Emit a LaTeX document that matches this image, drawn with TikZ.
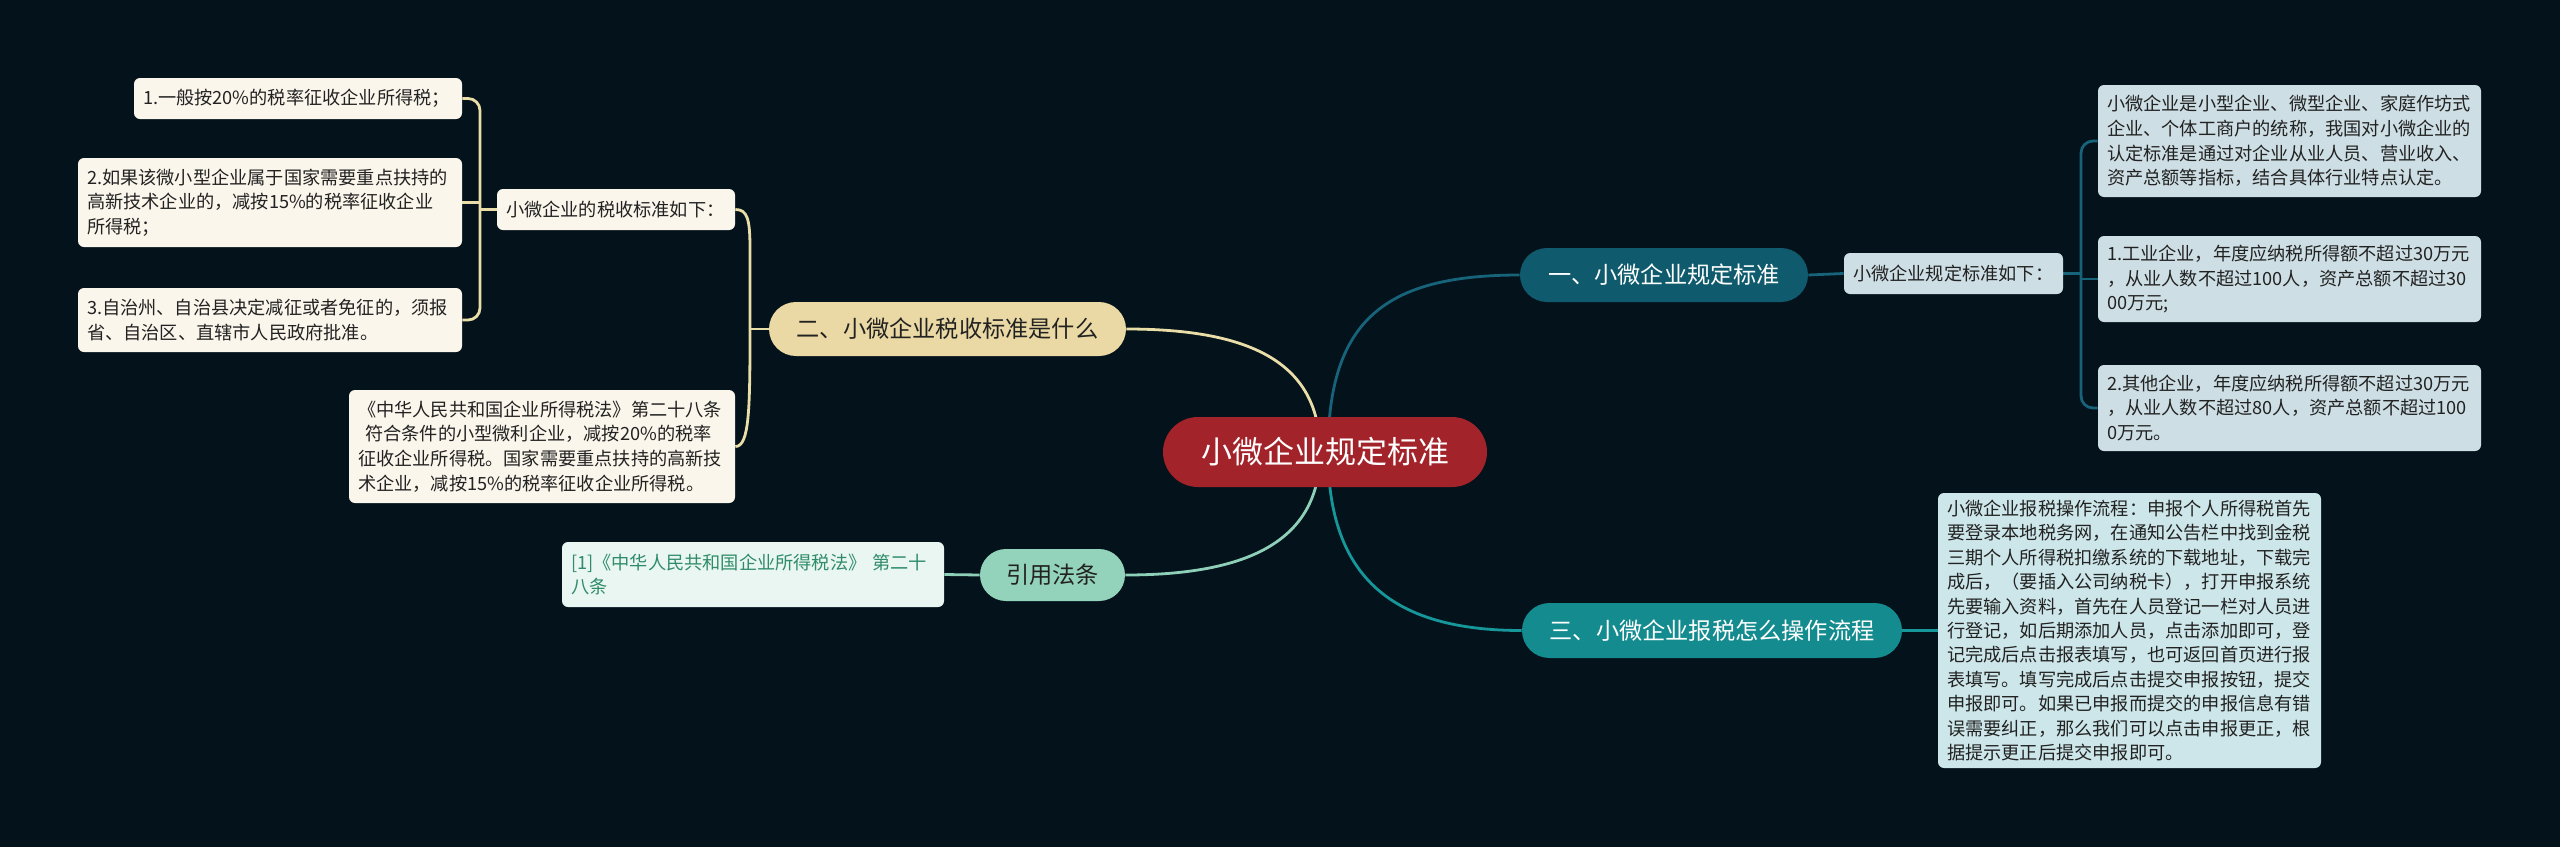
\documentclass[tikz,border=0pt]{standalone}
\usepackage{fontspec}
\newfontfamily\cjk{Noto Sans CJK SC}
\usetikzlibrary{calc}
\definecolor{bgc}{HTML}{04121B}
\definecolor{rootc}{HTML}{A2232A}
\definecolor{tealA}{HTML}{0F5A6D}
\definecolor{tealAl}{HTML}{16637A}
\definecolor{leafA}{HTML}{CDDEE4}
\definecolor{creamB}{HTML}{EAD9A4}
\definecolor{creamBl}{HTML}{E9DDA8}
\definecolor{leafB}{HTML}{FBF6EC}
\definecolor{mintC}{HTML}{93D3BC}
\definecolor{mintCl}{HTML}{8ECFB8}
\definecolor{leafC}{HTML}{EAF6F2}
\definecolor{refText}{HTML}{2F8C6A}
\definecolor{tealD}{HTML}{148C8F}
\definecolor{tealDl}{HTML}{16979A}
\definecolor{leafD}{HTML}{CDE6E9}
\definecolor{darktext}{HTML}{222222}
\pgfdeclarelayer{bglayer}
\pgfdeclarelayer{lines}
\pgfsetlayers{bglayer,lines,main}
\begin{document}
\begin{tikzpicture}[x=0.5pt,y=-0.5pt,
  smallfont/.style={font=\cjk\fontsize{9.1}{12.3}\selectfont},
  leafbox/.style={smallfont, rounded corners=3pt, inner xsep=4.5pt, inner ysep=0pt, align=left, text=darktext},
  pill/.style={inner sep=0pt, align=center, font=\cjk\fontsize{11.6}{14}\selectfont},
  conn/.style={line width=1.4pt}
]
\begin{pgfonlayer}{bglayer}
\fill[bgc] (0,0) rectangle (2560,847);
\end{pgfonlayer}
\useasboundingbox (0,0) rectangle (2560,847);

% root
\node[fill=rootc, text=white, rounded corners=17.5pt, minimum width=162pt, minimum height=35pt, inner sep=0pt, font=\cjk\fontsize{15.5}{18}\selectfont] (root) at (1325,452) {小微企业规定标准};

% branches
\node[pill, fill=tealA, text=white, rounded corners=13.5pt, minimum width=144pt, minimum height=27pt] (b1) at (1664,275) {一、小微企业规定标准};
\node[pill, fill=creamB, text=darktext, rounded corners=13.5pt, minimum width=178.5pt, minimum height=27pt] (b2) at (947.5,329) {二、小微企业税收标准是什么};
\node[pill, fill=mintC, text=darktext, rounded corners=13pt, minimum width=72.5pt, minimum height=26pt] (yin) at (1052.5,575) {引用法条};
\node[pill, fill=tealD, text=white, rounded corners=13.75pt, minimum width=190pt, minimum height=27.5pt] (b3) at (1712,630.5) {三、小微企业报税怎么操作流程};

% right subtree of b1
\node[leafbox, fill=leafA, text width=100.5pt, minimum height=20.5pt] (rsub) at (1953.5,273.5) {小微企业规定标准如下：};
\node[leafbox, fill=leafA, text width=182.5pt, minimum height=56pt] (r1) at (2289.5,141) {小微企业是小型企业、微型企业、家庭作坊式\\企业、个体工商户的统称，我国对小微企业的\\认定标准是通过对企业从业人员、营业收入、\\资产总额等指标，结合具体行业特点认定。};
\node[leafbox, fill=leafA, text width=182.5pt, minimum height=43pt] (r2) at (2289.5,279) {1.工业企业，年度应纳税所得额不超过30万元\\，从业人数不超过100人，资产总额不超过30\\00万元;};
\node[leafbox, fill=leafA, text width=182.5pt, minimum height=43pt] (r3) at (2289.5,408) {2.其他企业，年度应纳税所得额不超过30万元\\，从业人数不超过80人，资产总额不超过100\\0万元。};

% left subtree of b2
\node[leafbox, fill=leafB, text width=110pt, minimum height=20.5pt] (lsub) at (616,209.5) {小微企业的税收标准如下：};
\node[leafbox, fill=leafB, text width=155pt, minimum height=20.5pt] (l1) at (298,98.5) {1.一般按20\%的税率征收企业所得税；};
\node[leafbox, fill=leafB, text width=183pt, minimum height=44.5pt] (l2) at (270,202.5) {2.如果该微小型企业属于国家需要重点扶持的\\高新技术企业的，减按15\%的税率征收企业\\所得税；};
\node[leafbox, fill=leafB, text width=183pt, minimum height=32pt] (l3) at (270,320) {3.自治州、自治县决定减征或者免征的，须报\\省、自治区、直辖市人民政府批准。};
\node[leafbox, fill=leafB, text width=184pt, minimum height=56.5pt] (l4) at (542,446.5) {《中华人民共和国企业所得税法》第二十八条\\\hspace*{0.4em}符合条件的小型微利企业，减按20\%的税率\\征收企业所得税。国家需要重点扶持的高新技\\术企业，减按15\%的税率征收企业所得税。};

% ref
\node[leafbox, fill=leafC, text=refText, text width=182pt, minimum height=32.5pt] (ref) at (753,574.5) {[1]《中华人民共和国企业所得税法》 第二十\\八条};

% b3 leaf
\node[leafbox, fill=leafD, text width=182.5pt, minimum height=137.5pt, font=\cjk\fontsize{9.1}{12.2}\selectfont] (r4) at (2129.5,630.5) {小微企业报税操作流程：申报个人所得税首先\\要登录本地税务网，在通知公告栏中找到金税\\三期个人所得税扣缴系统的下载地址，下载完\\成后，（要插入公司纳税卡），打开申报系统\\先要输入资料，首先在人员登记一栏对人员进\\行登记，如后期添加人员，点击添加即可，登\\记完成后点击报表填写，也可返回首页进行报\\表填写。填写完成后点击提交申报按钮，提交\\申报即可。如果已申报而提交的申报信息有错\\误需要纠正，那么我们可以点击申报更正，根\\据提示更正后提交申报即可。};

% helper coordinates
\coordinate (rootR) at (1328,452);
\coordinate (rootL) at (1320,452);
\coordinate (bxR) at (2081,0);
\coordinate (bxL) at (480,0);
\coordinate (jL) at (750,329);

\begin{pgfonlayer}{lines}
% root to branches
\draw[conn, tealAl] (rootR) .. controls (1328,320) and (1385,275) .. (b1.west);
\draw[conn, tealDl] (rootR) .. controls (1328,580) and (1395,630.5) .. (b3.west);
\draw[conn, creamBl] (rootL) .. controls (1320,365) and (1255,329) .. (b2.east);
\draw[conn, mintCl] (rootL) .. controls (1320,540) and (1250,575) .. (yin.east);

% b1 subtree
\draw[conn, tealAl] (b1.east) -- (rsub.west);
\draw[conn, tealAl] (rsub.east) -- (rsub.east -| bxR);
\draw[conn, tealAl, rounded corners=6pt] (r1.west) -- (r1.west -| bxR) -- (r3.west -| bxR) -- (r3.west);
\draw[conn, tealAl] (r2.west -| bxR) -- (r2.west);

% b3 subtree
\draw[conn, tealDl] (b3.east) -- (r4.west);

% ref
\draw[conn, mintCl] (yin.west) -- (ref.east);

% b2 subtree
\draw[conn, creamBl] (b2.west) -- (jL);
\draw[conn, creamBl] (jL) -- ++(0,-80) .. controls +(0,-30) and +(12,0) .. (lsub.east);
\draw[conn, creamBl] (jL) .. controls +(0,80) and +(14,0) .. (l4.east);
\draw[conn, creamBl] (lsub.west) -- (lsub.west -| bxL);
\draw[conn, creamBl, rounded corners=6pt] (l1.east) -- (l1.east -| bxL) -- (l3.east -| bxL) -- (l3.east);
\draw[conn, creamBl] (l2.east -| bxL) -- (l2.east);
\end{pgfonlayer}
\end{tikzpicture}
\end{document}
